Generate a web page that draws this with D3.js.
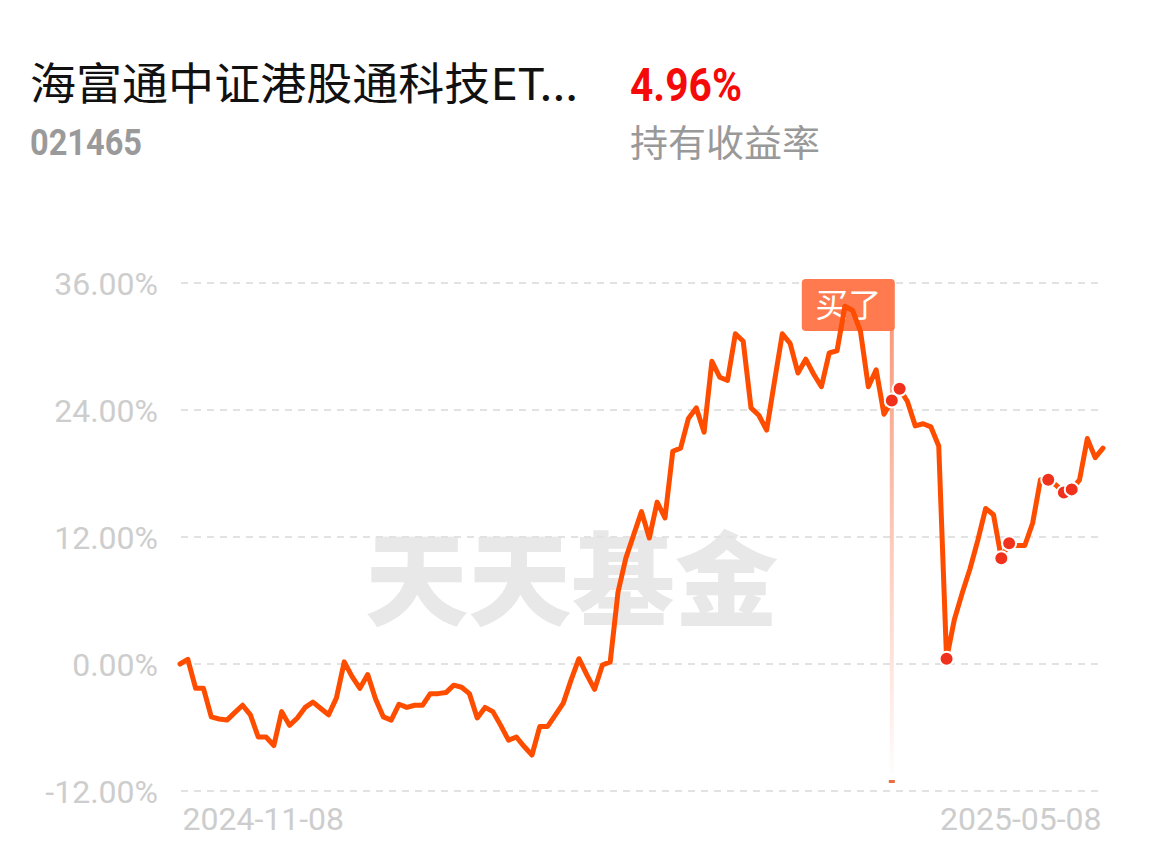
<!DOCTYPE html>
<html><head><meta charset="utf-8">
<script src="https://cdn.jsdelivr.net/npm/d3@7"></script>
<style>html,body{margin:0;padding:0;background:#fff;}svg{display:block;}</style>
</head><body>
<svg id="chart" width="1150" height="868"></svg>
<script>
// ---- data ----
const fundName = "海富通中证港股通科技ET...";
const fundCode = "021465";
const holdingReturn = "4.96%";
const holdingLabel = "持有收益率";
const watermark = "天天基金";
const buyLabel = "买了";
const yTicks = [36, 24, 12, 0, -12];
const xTickLabels = ["2024-11-08", "2025-05-08"];
// cumulative return (%) per trading day
const returns = [
  0.0, 0.44, -2.3, -2.3, -5.0, -5.2, -5.3, -4.6, -3.9, -4.8,
  -6.9, -6.9, -7.7, -4.5, -5.8, -5.1, -4.1, -3.6, -4.2, -4.8,
  -3.2, 0.2, -1.2, -2.3, -1.0, -3.3, -5.0, -5.3, -3.8, -4.1,
  -3.9, -3.9, -2.8, -2.8, -2.7, -2.0, -2.2, -2.8, -5.1, -4.1,
  -4.5, -5.8, -7.2, -6.9, -7.8, -8.6, -5.9, -5.9, -4.8, -3.7,
  -1.5, 0.5, -1.0, -2.4, -0.1, 0.2, 6.8, 10.0, 12.2, 14.4,
  11.9, 15.3, 13.8, 20.1, 20.4, 23.2, 24.2, 21.9, 28.6, 27.1,
  26.8, 31.2, 30.5, 24.2, 23.5, 22.1, 26.7, 31.2, 30.3, 27.5,
  28.8, 27.4, 26.2, 29.4, 29.6, 33.8, 33.4, 31.4, 26.2, 27.8,
  23.6, 24.9, 26.0, 24.8, 22.5, 22.7, 22.4, 20.6, 0.5, 4.2,
  6.7, 9.0, 11.7, 14.7, 14.1, 10.0, 11.4, 11.2, 11.2, 13.3,
  17.4, 17.4, 16.9, 16.2, 16.5, 17.4, 21.3, 19.5, 20.4
];
// indices of days with a purchase
const buyIdx = [91, 92, 98, 105, 106, 111, 113, 114];

// ---- drawing ----
const svg = d3.select("#chart");
const x = d3.scaleLinear().domain([0, returns.length - 1]).range([180, 1103]);
const y = d3.scaleLinear().domain([-12, 36]).range([791, 283]);

// header
svg.append("text").text(fundName).attr("x", 30).attr("y", 100)
  .attr("font-family", "'Noto Sans CJK SC', sans-serif").attr("font-size", 44)
  .attr("fill", "#111").attr("textLength", 548).attr("lengthAdjust", "spacingAndGlyphs");
svg.append("text").text(fundCode).attr("x", 30).attr("y", 155)
  .attr("font-family", "Roboto, sans-serif").attr("font-weight", "bold").attr("font-size", 36)
  .attr("fill", "#9a9a9a").attr("textLength", 112).attr("lengthAdjust", "spacingAndGlyphs");
svg.append("text").text(holdingReturn).attr("x", 630).attr("y", 101)
  .attr("font-family", "Roboto, sans-serif").attr("font-weight", "bold").attr("font-size", 46)
  .attr("fill", "#f50a0a").attr("textLength", 112).attr("lengthAdjust", "spacingAndGlyphs");
svg.append("text").text(holdingLabel).attr("x", 630).attr("y", 157)
  .attr("font-family", "'Noto Sans CJK SC', sans-serif").attr("font-size", 37)
  .attr("fill", "#999").attr("textLength", 190).attr("lengthAdjust", "spacingAndGlyphs");

// watermark
svg.append("text").text(watermark).attr("x", 365).attr("y", 618)
  .attr("font-family", "'Noto Sans CJK SC', sans-serif").attr("font-weight", 900).attr("font-size", 102)
  .attr("fill", "#e8e8e8").attr("textLength", 413).attr("lengthAdjust", "spacingAndGlyphs");

// grid + y labels
const yAxis = d3.axisLeft(y).tickValues(yTicks).tickSize(0).tickPadding(0)
  .tickFormat(d => d.toFixed(2) + "%");
const gy = svg.append("g").attr("transform", "translate(158,0)").call(yAxis);
gy.select(".domain").remove();
gy.selectAll("text").attr("font-family", "Roboto, sans-serif").attr("font-size", 32)
  .attr("fill", "#cdcdcd").attr("dy", "0.36em");
svg.append("g").selectAll("line").data(yTicks).join("line")
  .attr("x1", 181).attr("x2", 1101).attr("y1", d => y(d)).attr("y2", d => y(d))
  .attr("stroke", "#e2e2e2").attr("stroke-width", 2).attr("stroke-dasharray", "7,6");

// x labels
const xAxis = d3.axisBottom(x).tickValues([0, returns.length - 1]).tickSize(0)
  .tickFormat((d, i) => xTickLabels[i]);
const gx = svg.append("g").attr("transform", "translate(0,804)").call(xAxis);
gx.select(".domain").remove();
gx.selectAll("text").attr("font-family", "Roboto, sans-serif").attr("font-size", 32)
  .attr("fill", "#cdcdcd").attr("dy", "0.71em")
  .attr("text-anchor", (d, i) => i === 0 ? "start" : "end")
  .attr("dx", (d, i) => i === 0 ? 2 : -2);

// buy marker vertical line with fade
const defs = svg.append("defs");
const grad = defs.append("linearGradient").attr("id", "fade").attr("x1", 0).attr("x2", 0).attr("y1", 0).attr("y2", 1);
grad.append("stop").attr("offset", "0%").attr("stop-color", "#f78a66").attr("stop-opacity", 0.85);
grad.append("stop").attr("offset", "100%").attr("stop-color", "#f78a66").attr("stop-opacity", 0.02);
const bx = x(buyIdx[0]);
svg.append("rect").attr("x", bx - 2).attr("y", 328).attr("width", 4).attr("height", 446)
  .attr("fill", "url(#fade)");
svg.append("rect").attr("x", bx - 3).attr("y", 780).attr("width", 6).attr("height", 3)
  .attr("fill", "#ec6a44");

// label
svg.append("rect").attr("x", bx - 90).attr("y", 279).attr("width", 93).attr("height", 52)
  .attr("rx", 4).attr("fill", "#ff7a4e");
svg.append("text").text(buyLabel).attr("x", bx - 43.5).attr("y", 317)
  .attr("text-anchor", "middle").attr("font-family", "'Noto Sans CJK SC', sans-serif")
  .attr("font-size", 33).attr("fill", "#fff");

// line
const line = d3.line().x((d, i) => x(i)).y(d => y(d));
svg.append("path").datum(returns).attr("d", line).attr("fill", "none")
  .attr("stroke", "#ff4d00").attr("stroke-width", 5)
  .attr("stroke-linejoin", "round").attr("stroke-linecap", "round");

// buy dots
svg.append("g").selectAll("circle").data(buyIdx).join("circle")
  .attr("cx", d => x(d)).attr("cy", d => y(returns[d])).attr("r", 7)
  .attr("fill", "#f0321c").attr("stroke", "#fff").attr("stroke-width", 2);
</script>
</body></html>
